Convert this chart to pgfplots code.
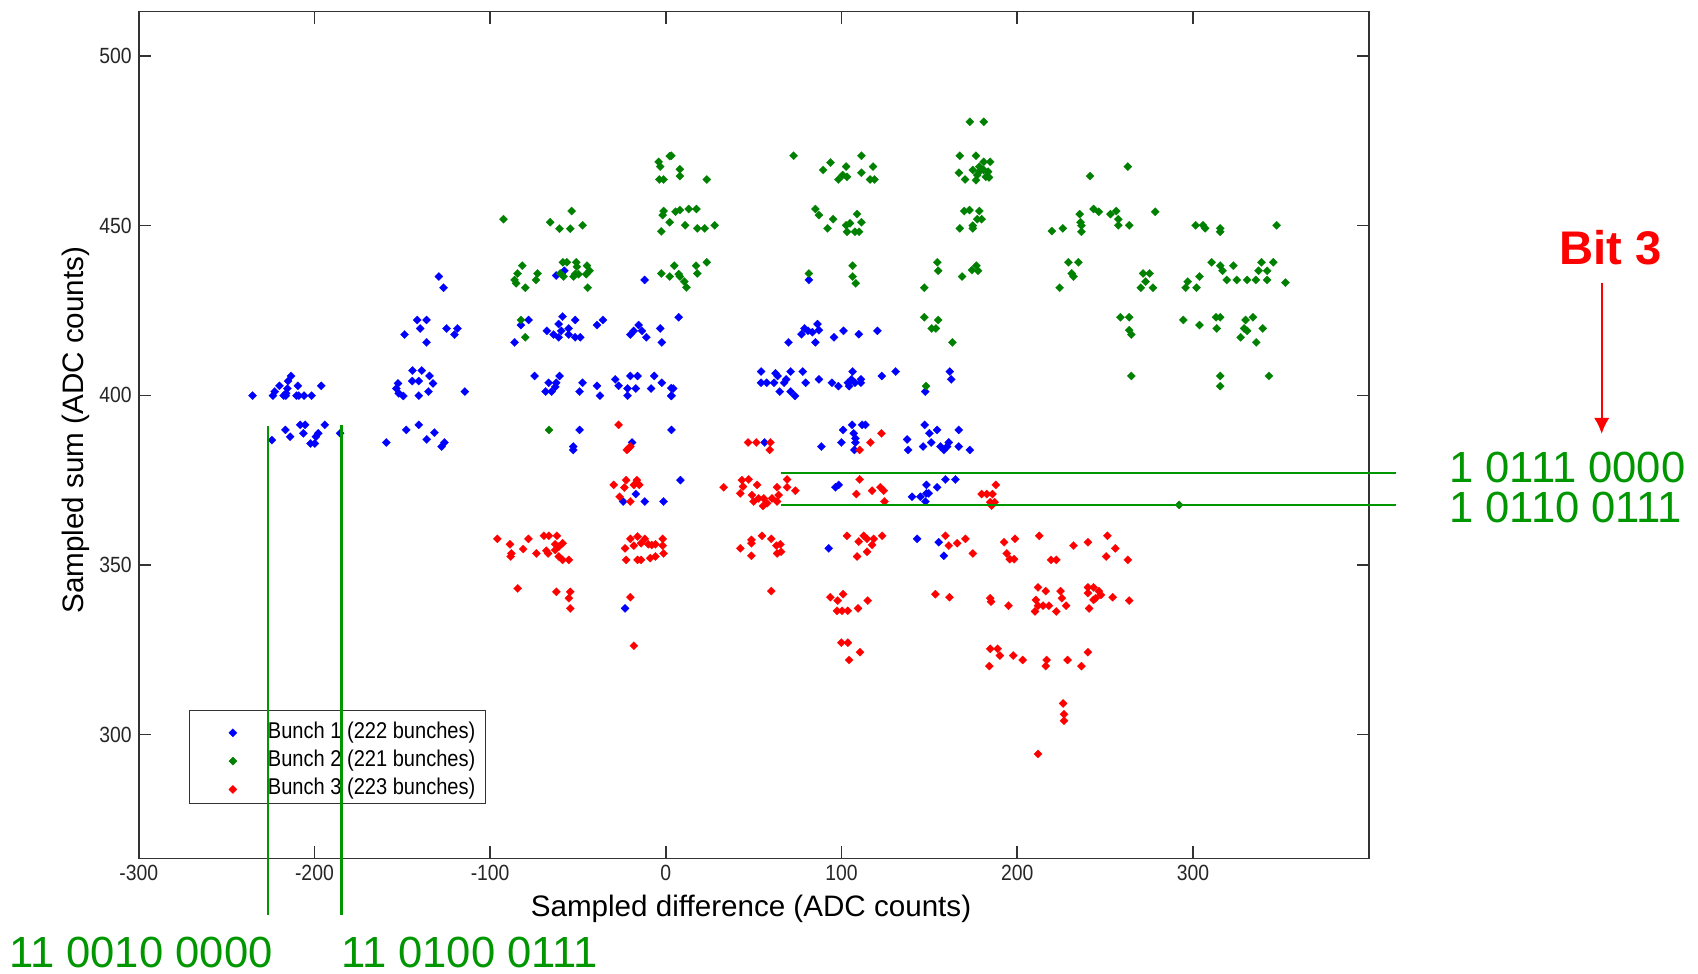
\documentclass[border=0pt]{standalone}
\usepackage{fontspec}
\setmainfont{Liberation Sans}
\newfontfamily\tickfont[FakeStretch=0.88]{Liberation Sans}
\usepackage{pgfplots}
\pgfplotsset{compat=1.18}
\usetikzlibrary{arrows.meta}
\definecolor{mblue}{RGB}{0,0,255}
\definecolor{mgreen}{RGB}{0,128,0}
\definecolor{mred}{RGB}{255,0,0}
\definecolor{agreen}{RGB}{0,150,0}
\pgfplotsset{mylegend/.style={legend image code/.code={\path[draw=none, fill=none] (0pt,-4pt) rectangle (34.1pt,4pt); \draw[##1, only marks] plot coordinates {(18.6pt,-1.9pt)};}},
  mymark/.style={only marks, mark=square*, mark size=1.45pt, color=#1, mark options={rotate=45, line width=0.1pt}, mylegend}}
\begin{document}
\begin{tikzpicture}
\path[use as bounding box] (0,0) rectangle (849pt,487pt);
\begin{axis}[
  at={(69.35pt,57.75pt)}, anchor=south west,
  scale only axis, width=615pt, height=423.4pt,
  xmin=-300, xmax=400, ymin=263.5, ymax=513.05,
  xtick={-300,-200,...,300}, ytick={300,350,...,500},
  tick align=inside, major tick length=6pt,
  axis line style={black!80, line width=0.8pt},
  every tick/.style={black!80, line width=0.8pt},
  ticklabel style={font=\tickfont\fontsize{11}{13}\selectfont, text=black!85},
  /pgf/number format/assume math mode=true,
  xlabel={Sampled difference (ADC counts)},
  ylabel={Sampled sum (ADC counts)},
  label style={font=\fontsize{14.8}{17}\selectfont},
  xlabel style={at={(axis description cs:0.4978,0)}, anchor=center, yshift=-25.2pt},
  ylabel style={at={(axis description cs:-0.0514,0.5057)}, anchor=center, rotate=0},
  legend style={at={(0.04114,0.1748)}, anchor=north west, draw=black!80, fill=white,
    inner xsep=3pt, inner ysep=2pt, font=\tickfont\fontsize{11.4}{13}\selectfont,
    nodes={inner sep=2pt, text height=9.7pt, text depth=0.45pt}, cells={anchor=west}},
]
\addplot[mymark=mblue] coordinates {
(-235.2,399.9) (-223.6,399.9) (-217.5,399.9) (-216.3,399.9) (-210.2,399.9) (-208.9,399.9) (-205.9,399.9) (-201.6,399.9)
(-219.9,402.8) (-215.4,402.0) (-209.4,402.8) (-222.6,401.1) (-216.1,400.6) (-196.1,402.8) (-215.0,404.2) (-213.3,405.7)
(-224.2,386.8) (-216.5,389.8) (-213.8,387.8) (-208.1,391.3) (-205.3,391.3) (-206.3,388.8) (-202.2,385.8) (-199.8,385.8)
(-197.8,388.8) (-199.2,387.8) (-194.1,391.3) (-185.4,388.8)
(-152.4,403.5) (-144.3,404.2) (-140.6,404.2) (-132.5,403.5) (-153.4,402.0) (-152.0,400.6) (-149.4,399.8) (-140.6,399.9)
(-135.1,401.1) (-114.4,401.1) (-144.2,407.3) (-138.9,407.3) (-134.5,405.7)
(-159.1,386.1) (-147.7,389.8) (-140.6,391.3) (-136.1,387.0) (-131.7,389.0) (-127.6,384.9) (-126.0,386.1)
(-129.2,435.0) (-126.5,431.7) (-141.5,422.2) (-136.2,422.2) (-139.8,419.7) (-148.7,417.9) (-136.2,415.6) (-124.8,419.7)
(-118.6,419.7) (-120.3,417.9)
(-62.4,435.3) (-57.8,436.7) (-12.1,434.0) (-78.1,422.2) (-82.5,420.7) (-86.1,415.6) (-58.8,423.2) (-61.0,421.0)
(-67.7,419.0) (-63.9,417.9) (-61.0,417.1) (-59.5,419.0) (-55.3,419.7) (-55.3,417.9) (-51.6,422.2) (-51.6,417.1)
(-48.7,417.1) (-39.2,420.7) (-35.8,422.2) (-15.5,420.7) (-18.3,419.0) (-20.2,417.9) (-13.6,419.0) (-11.1,417.1)
(-3.2,419.7) (-2.3,415.6)
(-74.7,405.7) (-66.7,403.7) (-60.5,405.7) (-62.4,403.7) (-47.4,403.7) (-39.2,402.8) (-28.8,404.7) (-26.9,402.8)
(-20.2,405.7) (-16.1,405.7) (-6.6,405.7) (-2.3,403.7)
(-68.4,401.1) (-65.0,401.1) (-62.9,402.5) (-49.1,401.1) (-37.5,399.9) (-21.8,402.0) (-21.8,399.9) (-17.1,402.0)
(-8.4,402.0) (3.2,399.9) (4.2,402.0)
(-49.1,389.8) (-52.7,384.9) (-52.7,383.9) (-19.2,386.1) (3.2,389.8) (8.3,375.0) (-17.1,370.9) (-24.3,368.7)
(-12.0,368.7) (-1.3,368.7) (-23.2,337.2)
(7.3,423.0) (69.8,415.6) (77.2,418.0) (78.9,419.7) (80.9,419.0) (83.4,418.6) (86.3,421.0) (87.1,419.2)
(85.1,415.6) (95.7,417.1) (101.1,419.0) (109.8,418.0) (120.4,419.0) (81.4,434.0)
(3.1,402.1) (3.1,399.8) (54.2,407.0) (62.4,406.5) (63.6,405.7) (71.0,407.0) (77.9,407.0) (54.2,403.7)
(57.4,403.7) (61.6,403.7) (68.5,404.7) (67.3,403.7) (64.8,401.1) (71.0,401.1) (73.5,399.8) (79.6,403.7)
(87.1,404.7) (94.5,403.7) (98.2,402.7) (104.3,402.7) (106.3,407.0) (105.6,404.7) (107.6,403.7) (111.0,404.7)
(111.0,403.7) (103.6,403.7) (122.9,405.7) (130.8,407.0) (147.6,401.1) (161.6,407.0) (162.4,404.7)
(96.5,372.9) (98.4,373.6) (140.1,370.1) (144.9,370.1) (148.3,371.1) (148.3,373.6) (149.6,371.1) (154.4,372.9)
(159.1,375.2) (164.8,375.2) (147.7,368.7)
(56.2,386.1) (88.5,384.9) (99.9,386.1) (100.9,389.8) (106.0,391.3) (111.7,391.3) (113.6,391.3) (106.9,388.8)
(107.9,387.3) (107.9,386.1) (107.3,383.9) (147.3,391.3) (150.0,388.8) (154.4,389.8) (137.3,387.0) (137.9,383.9)
(146.4,384.9) (151.0,386.1) (156.3,384.9) (158.2,383.9) (161.0,386.1) (160.1,384.9) (166.7,389.8) (166.7,384.9)
(92.7,354.9) (143.0,357.7) (155.3,356.7) (158.2,352.7) (173.0,383.9)
};
\addlegendentry{Bunch 1 (222 bunches)}
\addplot[mymark=mgreen] coordinates {
(-92.4,451.9) (-65.8,451.0) (-60.5,449.1) (-54.4,449.1) (-47.4,450.1) (-53.6,454.3)
(-4.1,468.8) (-3.2,467.4) (-3.7,463.6) (-1.3,463.6) (2.2,470.5) (-1.3,454.3) (-1.8,453.1) (2.2,451.0) (-2.6,448.3)
(-81.7,438.2) (-84.4,435.9) (-86.1,434.0) (-85.2,433.0) (-80.0,431.7) (-73.0,435.9) (-73.9,434.0) (-58.6,439.2)
(-56.3,439.2) (-51.0,439.2) (-50.6,437.9) (-44.9,438.2) (-43.4,436.7) (-45.3,435.7) (-60.1,435.9) (-58.2,435.0)
(-51.6,435.7) (-49.7,435.7) (-52.5,435.0) (-44.5,431.7) (-2.6,435.9) (2.2,435.0)
(-82.5,422.2) (-80.0,417.1) (-66.5,389.8)
(3.1,470.6) (8.0,466.6) (8.0,464.6) (23.3,463.6) (5.5,454.1) (8.0,454.6) (13.0,454.9) (17.4,454.9)
(11.0,450.1) (17.9,449.2) (22.1,449.2) (27.8,450.1)
(4.8,438.2) (7.3,435.7) (8.0,435.0) (10.5,433.5) (11.7,431.8) (17.2,438.2) (17.9,435.9) (23.3,439.2)
(72.7,470.6) (93.7,468.6) (89.5,466.4) (102.6,467.4) (100.6,464.9) (98.2,463.6) (103.1,464.4) (111.3,470.6)
(111.3,465.6) (117.9,467.4) (116.2,463.6) (118.7,463.6)
(85.1,454.9) (87.1,453.1) (95.2,451.9) (92.0,449.2) (102.6,450.1) (108.8,453.4) (111.3,451.0) (103.1,448.2)
(107.6,448.2) (110.0,448.2) (104.8,450.7)
(81.4,435.9) (106.3,438.2) (106.3,435.0) (108.1,433.0)
(173.0,480.6) (180.9,480.6) (167.3,470.6) (176.5,470.6) (166.8,465.6) (170.3,463.6) (176.5,463.4) (174.7,466.4)
(178.4,467.4) (180.9,468.8) (184.6,468.8) (180.9,466.4) (183.4,465.9) (182.1,464.4) (183.9,464.2) (178.4,465.9)
(177.2,464.9)
(169.8,454.3) (172.8,454.6) (178.4,454.3) (179.7,451.9) (177.2,451.9) (174.7,450.0) (167.3,449.2) (174.7,449.2)
(154.5,439.2) (155.0,436.7) (147.1,431.7) (168.6,435.0) (174.2,436.9) (176.7,438.2) (177.7,436.7)
(147.1,423.0) (155.0,422.2) (151.3,419.7) (153.7,419.7) (163.1,415.6) (148.1,402.7)
(241.4,464.6) (262.9,467.4)
(219.7,448.4) (225.9,449.2) (235.5,453.4) (236.0,451.0) (236.5,450.0) (236.5,448.2) (243.4,454.9) (246.4,454.1)
(253.0,453.4) (256.3,454.3) (257.5,451.9) (257.5,450.1) (263.7,450.1) (278.5,454.1)
(229.1,439.2) (234.8,439.2) (231.0,435.9) (232.0,435.0) (224.1,431.7) (271.6,435.9) (275.3,435.9) (273.0,433.5)
(270.3,431.7) (277.2,431.7)
(258.7,423.0) (263.7,423.0) (263.7,419.2) (264.9,417.9) (264.9,405.7)
(301.5,450.1) (305.7,450.1) (306.9,449.2) (315.5,449.2) (315.5,448.2) (347.6,450.1)
(310.6,439.2) (315.5,438.2) (316.8,436.7) (323.0,438.2) (339.0,439.2) (345.7,439.2) (337.3,436.7) (342.2,436.7)
(319.2,434.0) (324.9,434.0) (330.8,434.0) (335.8,434.0) (342.2,434.0) (352.6,433.2) (303.7,435.0) (297.0,433.5)
(295.8,431.7) (302.0,431.7)
(294.5,422.2) (303.7,420.7) (313.1,423.0) (315.5,423.0) (313.5,419.7) (329.9,422.2) (334.1,423.0) (329.1,419.7)
(330.8,419.0) (327.1,417.1) (339.7,419.7) (336.0,415.6)
(315.5,405.7) (315.5,402.7) (343.2,405.7) (292.1,367.7)
};
\addlegendentry{Bunch 2 (221 bunches)}
\addplot[mymark=mred] coordinates {
(-26.9,391.3) (-22.2,383.9) (-20.2,384.9) (-21.2,384.4)
(-29.7,373.6) (-22.6,375.0) (-16.5,375.0) (-23.6,372.8) (-18.2,373.6) (-15.1,373.6) (-26.3,370.1) (-20.2,368.7)
(-95.9,357.7) (-88.7,356.1) (-87.9,353.4) (-88.3,352.5) (-81.2,354.7) (-78.2,357.7) (-73.7,353.4) (-69.4,358.6)
(-66.6,358.6) (-62.0,358.6) (-68.0,354.2) (-67.0,353.4) (-63.0,356.1) (-60.9,355.4) (-58.8,356.4) (-60.9,352.5)
(-58.8,351.5) (-55.2,351.5) (-63.0,354.4)
(-23.2,354.9) (-20.2,357.7) (-16.1,358.4) (-18.2,355.7) (-14.1,356.4) (-10.0,356.1) (-5.9,356.1) (-1.8,357.7)
(-1.8,355.7) (-22.6,351.5) (-16.1,351.5) (-14.1,351.5) (-8.9,352.0) (-5.9,352.5) (-1.3,353.4) (-12.0,357.7) (-8.0,355.9)
(-84.3,343.1) (-62.3,342.1) (-54.4,342.1) (-55.2,340.2) (-54.4,337.2) (-20.2,340.5) (-18.2,326.2)
(32.9,372.9) (43.3,375.0) (47.1,375.2) (43.9,373.1) (51.9,373.6) (42.4,371.1) (49.0,370.6) (50.0,368.7)
(55.7,369.6) (55.3,367.4) (57.6,368.2) (60.4,369.6) (63.3,372.9) (64.2,370.6) (63.3,368.7) (69.0,375.2)
(69.0,372.9) (73.7,371.9) (52.8,369.6)
(110.3,375.2) (108.4,370.9) (117.4,371.9) (122.1,372.9) (124.0,371.9) (124.4,368.7)
(46.8,386.1) (51.5,386.1) (59.5,386.1) (59.1,383.9) (110.3,383.9) (116.4,386.1) (122.7,388.8)
(48.7,357.4) (54.7,358.6) (60.0,357.7) (48.7,356.4) (42.4,354.9) (48.7,352.7) (62.9,355.7) (65.2,356.1)
(63.3,353.4) (65.6,353.9)
(103.1,358.6) (112.6,358.6) (114.5,357.7) (118.3,357.7) (123.1,358.6) (109.8,356.9) (117.4,355.9) (114.5,353.9) (108.8,352.5)
(159.1,358.6) (161.0,355.7) (165.8,356.4)
(60.0,342.3) (93.6,340.5) (100.9,341.4) (97.8,339.5) (97.4,336.5) (100.3,336.5) (103.5,336.5) (109.4,337.2)
(114.9,339.5) (153.4,341.4) (161.4,340.5)
(179.7,370.9) (182.6,370.9) (185.9,370.9) (187.8,373.6) (184.6,368.5) (187.1,368.5) (185.4,367.5)
(192.5,356.7) (198.7,357.7) (194.0,353.4) (195.7,351.7) (198.2,351.7) (212.5,358.6) (219.2,351.5) (222.2,351.5)
(232.0,355.7) (240.2,356.7) (251.3,358.6) (255.8,354.9) (250.6,352.5) (262.9,351.5) (174.7,353.4) (170.5,357.7)
(184.6,340.2) (185.1,339.2) (195.0,338.0) (211.8,343.4) (216.2,342.3) (210.6,339.7) (211.8,338.0) (214.7,338.0)
(218.0,338.0) (210.1,336.3) (222.2,336.3) (224.6,342.3) (225.4,340.2) (227.8,338.0) (240.2,343.4) (243.4,343.4)
(240.2,341.7) (246.4,342.3) (247.6,341.2) (243.4,339.7) (244.6,340.2) (240.9,337.2) (254.3,340.5) (263.7,339.5)
(184.6,325.3) (188.8,325.3) (190.1,323.3) (197.7,323.3) (203.1,322.0) (184.1,320.2) (216.7,322.0) (216.2,320.2)
(228.6,322.0) (240.2,324.3) (236.5,320.2)
(226.1,309.2) (226.6,306.0) (226.6,304.1) (211.8,294.3)
(99.9,327.1) (103.6,327.1) (110.5,324.3) (104.3,322.0)
};
\addlegendentry{Bunch 3 (223 bunches)}
\end{axis}
% annotations
\draw[agreen, line width=1.1pt] (134.1pt,274pt) -- (134.1pt,29.5pt);
\draw[agreen, line width=1.1pt] (170.7pt,274.5pt) -- (170.7pt,29.5pt);
\draw[agreen, line width=1.1pt] (390.7pt,250.35pt) -- (697.85pt,250.35pt);
\draw[agreen, line width=1.1pt] (390.7pt,234.35pt) -- (697.85pt,234.35pt);
\node[anchor=base west, inner sep=0pt, text=agreen, font=\fontsize{21.8}{24}\selectfont] at (724.5pt,245.95pt) {1 0111 0000};
\node[anchor=base west, inner sep=0pt, text=agreen, font=\fontsize{21.8}{24}\selectfont] at (724.5pt,225.95pt) {1 0110 0111};
\node[anchor=base west, inner sep=0pt, text=agreen, font=\fontsize{21.8}{24}\selectfont] at (4.35pt,3pt) {11 0010 0000};
\node[anchor=base west, inner sep=0pt, text=agreen, font=\fontsize{21.8}{24}\selectfont] at (170.3pt,3pt) {11 0100 0111};
\node[anchor=base west, inner sep=0pt, text=mred, font=\bfseries\fontsize{23.6}{26}\selectfont] at (779.5pt,354.85pt) {Bit 3};
\draw[mred, line width=1pt, -{Latex[length=8pt,width=7.7pt]}] (800.85pt,345.55pt) -- (800.85pt,270.05pt);
\end{tikzpicture}
\end{document}
